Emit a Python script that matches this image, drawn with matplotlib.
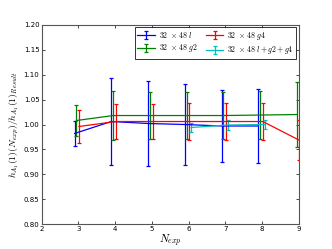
import matplotlib
matplotlib.use("Agg")
import matplotlib.pyplot as plt
import numpy as np

plt.rcParams['mathtext.fontset'] = 'cm'

# Data
n_l = [2.9, 3.9, 4.9, 5.9, 6.9, 7.9]
v_l = [0.982, 1.006, 1.002, 1.000, 0.997, 0.997]
e_l = [0.025, 0.087, 0.086, 0.082, 0.073, 0.074]

n_g2 = [2.95, 3.95, 4.95, 5.95, 6.95, 7.95, 8.95]
v_g2 = [1.008, 1.018, 1.018, 1.018, 1.018, 1.019, 1.020]
e_g2 = [0.031, 0.050, 0.048, 0.048, 0.048, 0.049, 0.065]

n_g4 = [3.02, 4.02, 5.02, 6.02, 7.02, 8.02, 9.0]
v_g4 = [0.996, 1.006, 1.006, 1.006, 1.006, 1.006, 0.969]
e_g4 = [0.034, 0.036, 0.036, 0.038, 0.038, 0.038, 0.040]

n_all = [6.07, 7.07, 8.07]
v_all = [0.994, 0.999, 1.000]
e_all = [0.010, 0.010, 0.010]

labels = [r'$32\ \times 48\ l$', r'$32\ \times 48\ g2$',
          r'$32\ \times 48\ g4$', r'$32\ \times 48\ l+g2+g4$']
x_ticks = [2, 3, 4, 5, 6, 7, 8, 9]
y_ticks = [0.80, 0.85, 0.90, 0.95, 1.00, 1.05, 1.10, 1.15, 1.20]

fig = plt.figure(figsize=(3.32, 2.49), dpi=100)
ax = fig.add_axes([0.125, 0.1, 0.775, 0.8])

series = [(n_l, v_l, e_l, 'b'), (n_g2, v_g2, e_g2, 'g'),
          (n_g4, v_g4, e_g4, 'r'), (n_all, v_all, e_all, 'c')]
for (x, y, e, c), lab in zip(series, labels):
    ax.errorbar(x, y, yerr=e, color=c, lw=0.9, elinewidth=0.9,
                capsize=1.5, capthick=0.9, label=lab)

ax.set_xlim(2, 9)
ax.set_ylim(0.80, 1.20)
ax.set_xticks(x_ticks)
ax.set_yticks(y_ticks)
ax.set_xticklabels([str(t) for t in x_ticks], fontsize=5)
ax.set_yticklabels(['%.2f' % t for t in y_ticks], fontsize=5)
ax.tick_params(direction='in', top=True, right=True, length=2, width=0.5, pad=1.5)
for s in ax.spines.values():
    s.set_linewidth(0.8)
    s.set_color('#555555')

ax.set_xlabel(r'$N_{exp}$', fontsize=8, labelpad=0)
ax.set_ylabel(r'$h_{A_1}(1)(N_{exp})/h_{A_1}(1)_{Result}$', fontsize=7, labelpad=2)

leg = ax.legend(loc='upper right', ncol=2, fontsize=5.7, frameon=True,
                fancybox=False, borderpad=0.3, handlelength=2.2,
                columnspacing=1.1, labelspacing=0.35, handletextpad=0.5,
                borderaxespad=0.3)
leg.get_frame().set_edgecolor('black')
leg.get_frame().set_linewidth(0.7)

fig.savefig('out.png', dpi=100)
